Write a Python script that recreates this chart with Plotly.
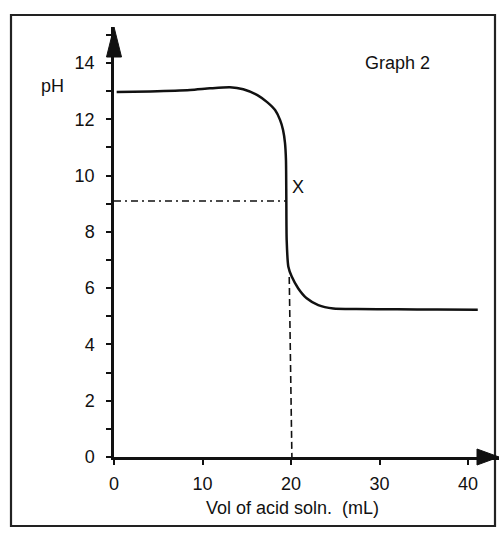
import plotly.graph_objects as go

# ---- data ----
vol = [0.3, 4.1, 8.6, 10.85, 13.1, 14.6, 16.2, 17.3, 18.2, 18.76, 19.1, 19.32, 19.43,
       19.47, 19.51, 19.7, 20.08, 20.82, 21.77, 23.08, 24.78, 27.4, 32.0, 36.5, 41.1]
ph = [12.97, 12.99, 13.04, 13.1, 13.14, 13.07, 12.86, 12.61, 12.33, 11.98, 11.62, 11.16, 10.55,
      9.2, 7.71, 6.76, 6.41, 5.99, 5.64, 5.40, 5.28, 5.26, 5.25, 5.24, 5.23]

hline_x = [0, 19.43]
hline_y = [9.1, 9.1]
vline_x = [19.8, 20.1]
vline_y = [6.4, 0]

x_ticks = [0, 10, 20, 30, 40]
y_ticks = [0, 2, 4, 6, 8, 10, 12, 14]

# ---- layout geometry ----
W, H = 499, 534
L, R, T, B = 114, 0, 27, 77
PW, PH = W - L - R, H - T - B
X_MAX = 43.5
Y_MAX = 15.28
FONT = "Liberation Sans, Arial, Helvetica, sans-serif"
INK = "#111111"


def px(xp):
    return (xp - L) / PW


def py(yp):
    return (T + PH - yp) / PH


fig = go.Figure()
fig.add_trace(go.Scatter(x=vol, y=ph, mode="lines",
                         line=dict(color=INK, width=2.5, shape="spline", smoothing=0.6),
                         hoverinfo="skip", showlegend=False))
fig.add_trace(go.Scatter(x=hline_x, y=hline_y, mode="lines",
                         line=dict(color=INK, width=1.5, dash="7px,4px,2px,4px"),
                         hoverinfo="skip", showlegend=False))
fig.add_trace(go.Scatter(x=vline_x, y=vline_y, mode="lines",
                         line=dict(color=INK, width=1.6, dash="7px,4px"),
                         hoverinfo="skip", showlegend=False))

axis_common = dict(showgrid=False, zeroline=False, showline=True, linecolor=INK, linewidth=2.5,
                   ticks="outside", ticklen=5, tickwidth=2, tickcolor=INK,
                   tickfont=dict(family=FONT, size=18, color=INK))

fig.update_xaxes(range=[0, X_MAX], tickvals=x_ticks, ticklabelstandoff=4, **axis_common)
fig.update_yaxes(range=[0, Y_MAX], tickvals=y_ticks, ticklabelstandoff=8,
                 minor=dict(dtick=1, tick0=0, ticks="outside", ticklen=5, tickwidth=2,
                            tickcolor=INK, showgrid=False),
                 **axis_common)

shapes = [
    # outer frame
    dict(type="rect", xref="paper", yref="paper", x0=px(11), x1=px(495), y0=py(526), y1=py(15),
         line=dict(color="#222222", width=2.2), layer="below"),
    # y-axis arrowhead
    dict(type="path", xref="paper", yref="paper",
         path=f"M {px(L-7.5)},{py(57)} L {px(L)},{py(T)} L {px(L+7.5)},{py(57)} Z",
         fillcolor=INK, line=dict(color=INK, width=1)),
    # x-axis arrowhead
    dict(type="path", xref="paper", yref="paper",
         path=f"M {px(477)},{py(T+PH-8)} L {px(W)},{py(T+PH)} L {px(477)},{py(T+PH+8)} Z",
         fillcolor=INK, line=dict(color=INK, width=1)),
]

annotations = [
    dict(text="Graph 2", x=32, y=14, xref="x", yref="y", showarrow=False,
         xanchor="center", yanchor="middle",
         font=dict(family=FONT, size=18, color=INK)),
    dict(text="X", x=20.8, y=9.6, xref="x", yref="y", showarrow=False,
         xanchor="center", yanchor="middle",
         font=dict(family=FONT, size=18, color=INK)),
    dict(text="pH", x=px(52), y=py(86), xref="paper", yref="paper", showarrow=False,
         xanchor="center", yanchor="middle",
         font=dict(family=FONT, size=18, color=INK)),
    dict(text="Vol of acid soln.\u00a0 (mL)", x=px(292), y=py(508), xref="paper", yref="paper",
         showarrow=False, xanchor="center", yanchor="middle",
         font=dict(family=FONT, size=18, color=INK)),
]

fig.update_layout(width=W, height=H, margin=dict(l=L, r=R, t=T, b=B),
                  paper_bgcolor="white", plot_bgcolor="white",
                  shapes=shapes, annotations=annotations, showlegend=False)

fig.write_html("out.html")
